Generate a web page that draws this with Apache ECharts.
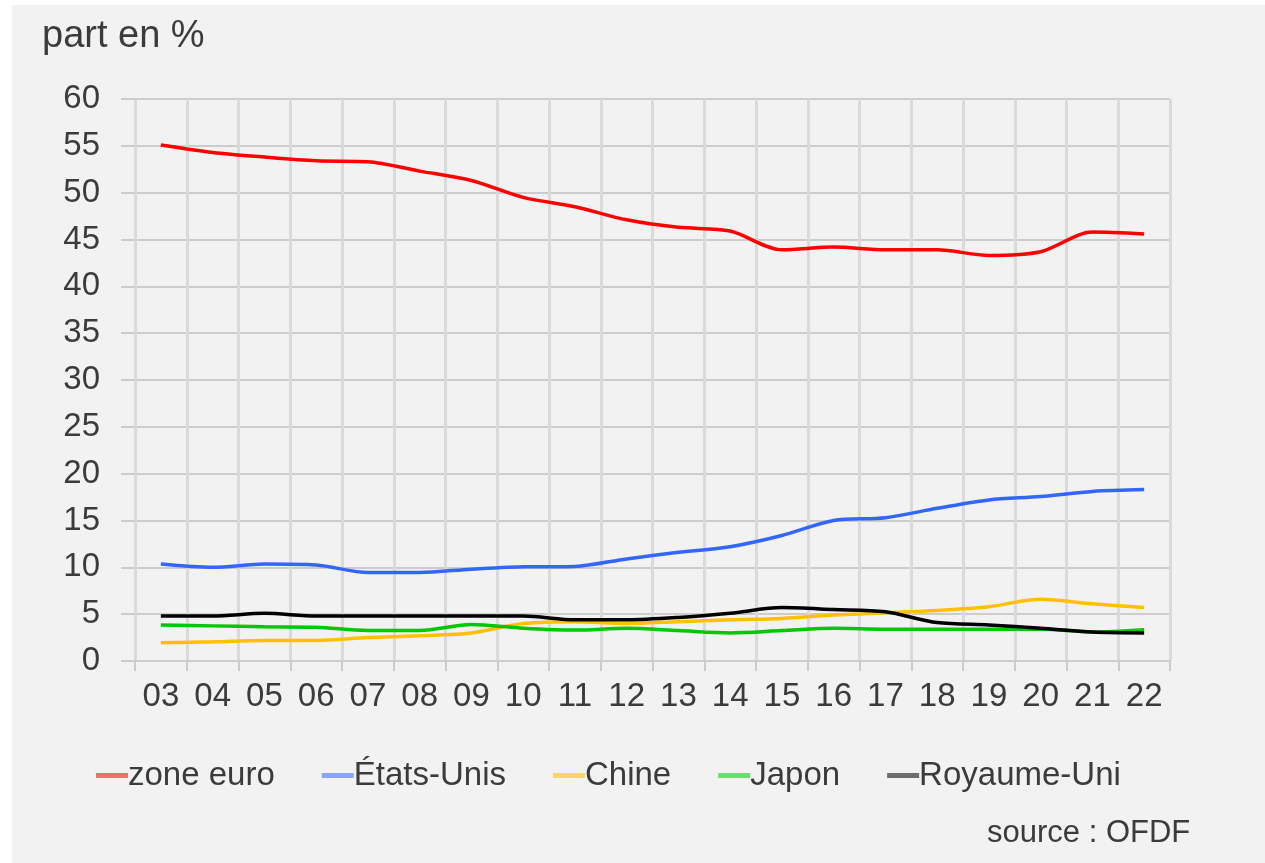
<!DOCTYPE html>
<html>
<head>
<meta charset="utf-8">
<script src="https://cdn.jsdelivr.net/npm/echarts@6/dist/echarts.min.js"></script>
<style>
  html, body { margin: 0; padding: 0; background: #ffffff; }
  #chart { position: absolute; left: 12px; top: 5px; width: 1253px; height: 858px; }
</style>
</head>
<body>
<div id="chart"></div>
<script>
var years = ['03','04','05','06','07','08','09','10','11','12','13','14','15','16','17','18','19','20','21','22'];
var zoneEuro = [55.1,54.3,53.8,53.4,53.3,52.3,51.3,49.5,48.5,47.1,46.3,45.9,43.9,44.2,43.9,43.9,43.3,43.7,45.8,45.6];
var etatsUnis = [10.35,10.0,10.35,10.25,9.45,9.45,9.8,10.05,10.1,10.9,11.6,12.2,13.4,15.0,15.3,16.3,17.2,17.55,18.1,18.3];
var chine = [1.95,2.05,2.2,2.2,2.5,2.7,3.0,4.0,4.2,4.0,4.2,4.4,4.55,4.9,5.15,5.4,5.8,6.6,6.1,5.7];
var japon = [3.85,3.75,3.65,3.6,3.25,3.25,3.9,3.5,3.3,3.5,3.25,3.0,3.25,3.5,3.4,3.4,3.4,3.4,3.1,3.35];
var royaumeUni = [4.8,4.8,5.1,4.8,4.8,4.8,4.8,4.8,4.4,4.4,4.65,5.1,5.7,5.5,5.25,4.1,3.85,3.5,3.1,3.0];
var yTicks = [0,5,10,15,20,25,30,35,40,45,50,55,60];

var font = "'Liberation Sans', Arial, sans-serif";
var textColor = '#3b3b3b';

var myChart = echarts.init(document.getElementById('chart'));
function line(name, data, color) {
  return {
    name: name,
    type: 'line',
    data: data,
    smooth: 0.3,
    showSymbol: false,
    symbol: 'none',
    color: color,
    lineStyle: {width: 3.5, color: color}
  };
}
option = {
  backgroundColor: '#f2f2f2',
  animation: false,
  title: [
    {text: 'part en %', left: 25, top: 8, textStyle: {fontFamily: font, fontSize: 38, fontWeight: 'normal', color: textColor}},
    {text: 'source : OFDF', left: 970, top: 808, textStyle: {fontFamily: font, fontSize: 31, fontWeight: 'normal', color: textColor}}
  ],
  legend: {
    left: 79,
    top: 749,
    icon: 'rect',
    itemWidth: 32,
    itemHeight: 5,
    itemGap: 47,
    itemStyle: {opacity: 0.55},
    textStyle: {fontFamily: font, fontSize: 33, color: textColor, padding: [0, 0, 0, -5]},
    data: ['zone euro','États-Unis','Chine','Japon','Royaume-Uni']
  },
  grid: {left: 123, right: 95, top: 94, bottom: 202},
  xAxis: {
    type: 'category',
    data: years,
    boundaryGap: true,
    axisLine: {show: true, lineStyle: {color: '#cccccc', width: 2}},
    axisTick: {show: true, length: 10, lineStyle: {color: '#cccccc', width: 2}},
    splitLine: {show: true, lineStyle: {color: '#dadada', width: 3}},
    axisLabel: {margin: 19, fontFamily: font, fontSize: 33, color: textColor}
  },
  yAxis: {
    type: 'value',
    min: yTicks[0],
    max: yTicks[yTicks.length - 1],
    interval: 5,
    axisLine: {show: false},
    axisTick: {show: true, length: 14, lineStyle: {color: '#cccccc', width: 2}},
    splitLine: {show: true, lineStyle: {color: '#cccccc', width: 2}},
    axisLabel: {margin: 35, fontFamily: font, fontSize: 33, color: textColor}
  },
  series: [
    line('zone euro', zoneEuro, '#ff0000'),
    line('États-Unis', etatsUnis, '#3366ff'),
    line('Chine', chine, '#ffc000'),
    line('Japon', japon, '#00c800'),
    line('Royaume-Uni', royaumeUni, '#000000')
  ]
};
myChart.setOption(option);

window.addEventListener('resize', function(){
  myChart.resize();
});
</script>
</body>
</html>
